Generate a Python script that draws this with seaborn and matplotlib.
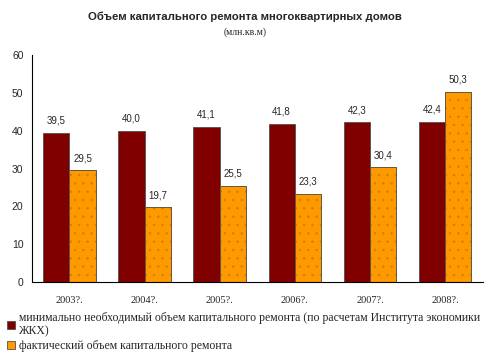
import pandas as pd
import matplotlib.pyplot as plt
import matplotlib.patches as mpatches
import seaborn as sns

# chart data
years = ['2003?.', '2004?.', '2005?.', '2006?.', '2007?.', '2008?.']
minimum_needed = [39.5, 40.0, 41.1, 41.8, 42.3, 42.4]
actual = [29.5, 19.7, 25.5, 23.3, 30.4, 50.3]
series_names = [
    'минимально необходимый объем капитального ремонта (по расчетам Института экономики\nЖКХ)',
    'фактический объем капитального ремонта',
]
colors = ['#800000', '#FF9900']

df = pd.DataFrame({
    'Год': years * 2,
    'Объем': minimum_needed + actual,
    'Серия': [series_names[0]] * len(years) + [series_names[1]] * len(years),
})

sns.set_style('white')
plt.rcParams['font.family'] = ['Liberation Sans', 'DejaVu Sans']
plt.rcParams['hatch.linewidth'] = 0.5

fig = plt.figure(figsize=(4.9, 3.59), dpi=100)
ax = fig.add_axes([0.065, 0.2145, 0.92, 0.632])

sns.barplot(data=df, x='Год', y='Объем', hue='Серия', palette=colors, saturation=1,
            width=0.7, edgecolor='#505050', linewidth=0.6, ax=ax, legend=False)

# dotted fill for the actual volume bars (light dots, grey outline on top)
for bar in ax.containers[1]:
    bar.set_hatch('..')
    bar.set_edgecolor('#D08000')
    outline = mpatches.Rectangle(bar.get_xy(), bar.get_width(), bar.get_height(),
                                 fill=False, edgecolor='#505050', linewidth=0.6)
    ax.add_patch(outline)

# value labels
for cont in ax.containers:
    ax.bar_label(cont, labels=[f'{v.get_height():.1f}'.replace('.', ',') for v in cont],
                 padding=5, fontsize=7)

ax.set_ylim(0, 60)
ax.set_yticks(range(0, 61, 10))
ax.set_xlim(-0.5, len(years) - 0.5)
ax.set_xticks([i - 0.5 for i in range(len(years) + 1)])
ax.set_xticklabels([])
ax.set_xticks(range(len(years)), minor=True)
ax.set_xticklabels(years, minor=True, fontsize=7.5, family='Liberation Serif')
ax.tick_params(axis='x', which='major', length=4, direction='out', width=0.8)
ax.tick_params(axis='x', which='minor', length=0, pad=10)
ax.tick_params(axis='y', length=4, direction='out', width=0.8, labelsize=7.5, pad=2)
ax.set_xlabel('')
ax.set_ylabel('')
for side in ['top', 'right']:
    ax.spines[side].set_visible(False)
for side in ['left', 'bottom']:
    ax.spines[side].set_color('black')
    ax.spines[side].set_linewidth(0.8)

fig.text(0.5, 0.945, 'Объем капитального ремонта многоквартирных домов',
         ha='center', fontsize=8.2, fontweight='bold')
fig.text(0.5, 0.902, '(млн.кв.м)', ha='center', fontsize=7, family='Liberation Serif')

# legend under the chart
handles = [mpatches.Rectangle((0, 0), 1, 1, facecolor=colors[0], edgecolor='#505050', linewidth=0.6),
           mpatches.Rectangle((0, 0), 1, 1, facecolor=colors[1], edgecolor='#505050', linewidth=0.6)]
fig.legend(handles, series_names, loc='upper left', bbox_to_anchor=(0.005, 0.145),
           frameon=False, prop={'family': 'Liberation Serif', 'size': 8.5},
           handlelength=0.7, handleheight=0.7, handletextpad=0.3, labelspacing=0.2,
           borderaxespad=0)

fig.savefig('out.png', dpi=100)
